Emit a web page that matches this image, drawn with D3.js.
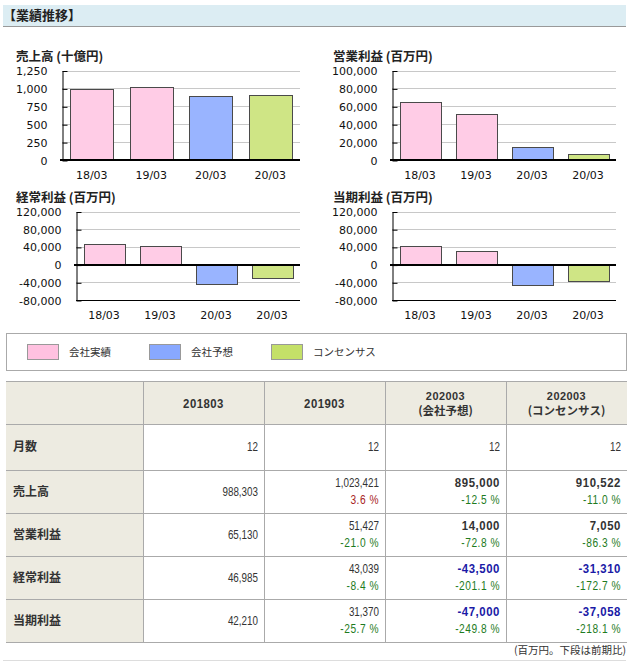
<!DOCTYPE html>
<html>
<head>
<meta charset="utf-8">
<script src="https://cdn.jsdelivr.net/npm/d3@7"></script>
<style>
	body { margin: 0; background: #fff; }
	svg { display: block; }
	.tick text { font-family: "DejaVu Sans", Verdana, sans-serif; font-size: 11px; fill: #111; }
</style>
</head>
<body>
<div id="chart"></div>
<script>
// periods shown under the bars, and what kind each bar is
const periods = ["18/03", "19/03", "20/03", "20/03"];
const barKinds = ["actual", "actual", "company", "consensus"];

// values in 百万円 (sales shown as 十億円 in the chart)
const sales = [988303, 1023421, 895000, 910522];
const operatingProfit = [65130, 51427, 14000, 7050];
const ordinaryProfit = [46985, 43039, -43500, -31310];
const netProfit = [42210, 31370, -47000, -37058];
const months = [12, 12, 12, 12];

// change vs previous period, %
const salesGrowth = [null, 3.6, -12.5, -11.0];
const operatingGrowth = [null, -21.0, -72.8, -86.3];
const ordinaryGrowth = [null, -8.4, -201.1, -172.7];
const netGrowth = [null, -25.7, -249.8, -218.1];

// tick labels
const salesTicks = [0, 250, 500, 750, 1000, 1250];
const operatingTicks = [0, 20000, 40000, 60000, 80000, 100000];
const profitTicks = [-80000, -40000, 0, 40000, 80000, 120000];

const legendLabels = ["会社実績", "会社予想", "コンセンサス"];
const columnHeads = [["201803"], ["201903"], ["202003", "(会社予想)"], ["202003", "(コンセンサス)"]];
const rowLabels = ["月数", "売上高", "営業利益", "経常利益", "当期利益"];

const barFill = { actual: "#ffcce6", company: "#99b4ff", consensus: "#cfe585" };
const swatchFill = ["#ffc1e0", "#88a8ff", "#c4e068"];
const cjk = "'Noto Sans CJK JP', 'Noto Sans', sans-serif";
const numFont = "'Liberation Sans', Arial, sans-serif";

// plain hyphen for negatives, like the original
const locale = d3.formatLocale({ decimal: ".", thousands: ",", grouping: [3], currency: ["", ""], minus: "-" });
const fmt = locale.format(",");
const pct = locale.format(".1f");

const svg = d3.select("#chart").append("svg")
	.attr("width", 636)
	.attr("height", 662);

// header band
svg.append("rect")
	.attr("x", 3).attr("y", 5)
	.attr("width", 623).attr("height", 21)
	.attr("fill", "#dcedf3");
svg.append("line")
	.attr("x1", 3).attr("x2", 626)
	.attr("y1", 26.5).attr("y2", 26.5)
	.attr("stroke", "#999");
svg.append("text")
	.attr("x", 3).attr("y", 15)
	.attr("dy", "0.35em")
	.attr("font-family", cjk)
	.attr("font-weight", "bold")
	.attr("font-size", 13)
	.attr("fill", "#222")
	.text("【業績推移】");

const panels = [
	{ title: "売上高 (十億円)", values: sales.map(v => v / 1000), ticks: salesTicks,
		left: 62, right: 300, top: 70.5, bottom: 160, titleX: 16, titleY: 57, labelY: 175 },
	{ title: "営業利益 (百万円)", values: operatingProfit, ticks: operatingTicks,
		left: 392, right: 616, top: 70.5, bottom: 160, titleX: 333, titleY: 57, labelY: 175 },
	{ title: "経常利益 (百万円)", values: ordinaryProfit, ticks: profitTicks,
		left: 76, right: 300, top: 211.5, bottom: 300, titleX: 16, titleY: 198, labelY: 315 },
	{ title: "当期利益 (百万円)", values: netProfit, ticks: profitTicks,
		left: 392, right: 616, top: 211.5, bottom: 300, titleX: 333, titleY: 198, labelY: 315 }
];

panels.forEach(p => drawPanel(p));

function drawPanel(p) {
	const g = svg.append("g");

	const y = d3.scaleLinear()
		.domain(d3.extent(p.ticks))
		.range([p.bottom, p.top]);

	const x = d3.scaleBand()
		.domain(d3.range(p.values.length))
		.range([p.left, p.right])
		.paddingInner(0.27)
		.paddingOuter(0.135);

	g.append("text")
		.attr("x", p.titleX).attr("y", p.titleY)
		.attr("dy", "0.35em")
		.attr("font-family", cjk)
		.attr("font-weight", "bold")
		.attr("font-size", 12.5)
		.attr("fill", "#222")
		.text(p.title);

	// grid
	g.selectAll(".grid")
		.data(p.ticks)
		.join("line")
		.attr("x1", p.left).attr("x2", p.right)
		.attr("y1", d => Math.round(y(d)) + 0.5)
		.attr("y2", d => Math.round(y(d)) + 0.5)
		.attr("stroke", "#c8c8c8");

	// bars
	g.selectAll(".bar")
		.data(p.values)
		.join("rect")
		.attr("x", (d, i) => Math.round(x(i)) + 0.5)
		.attr("y", d => Math.round(y(Math.max(0, d))) + 0.5)
		.attr("width", Math.round(x.bandwidth()))
		.attr("height", d => Math.abs(Math.round(y(d)) - Math.round(y(0))))
		.attr("fill", (d, i) => barFill[barKinds[i]])
		.attr("stroke", "#4a4a4a");

	// axis
	const axis = d3.axisLeft(y)
		.tickValues(p.ticks)
		.tickSize(-5)
		.tickSizeOuter(0)
		.tickPadding(15)
		.tickFormat(fmt);

	const ag = g.append("g")
		.attr("transform", `translate(${p.left + 0.5},0.5)`)
		.call(axis);
	ag.select(".domain").attr("stroke", "#000");
	ag.selectAll(".tick line").attr("stroke", "#000");
	ag.selectAll(".tick text").attr("x", -15);

	// bottom line when the scale goes below zero
	if (y.domain()[0] < 0) {
		g.append("line")
			.attr("x1", p.left).attr("x2", p.right)
			.attr("y1", Math.round(y(y.domain()[0])) + 0.5)
			.attr("y2", Math.round(y(y.domain()[0])) + 0.5)
			.attr("stroke", "#000");
	}

	// zero line
	g.append("line")
		.attr("x1", p.left - 2).attr("x2", p.right)
		.attr("y1", Math.round(y(0)))
		.attr("y2", Math.round(y(0)))
		.attr("stroke", "#000")
		.attr("stroke-width", 2);

	g.selectAll(".xlabel")
		.data(periods)
		.join("text")
		.attr("x", (d, i) => x(i) + x.bandwidth() / 2)
		.attr("y", p.labelY)
		.attr("dy", "0.35em")
		.attr("text-anchor", "middle")
		.attr("font-family", "'DejaVu Sans', Verdana, sans-serif")
		.attr("font-size", 11)
		.attr("fill", "#111")
		.text(d => d);
}

// legend
svg.append("rect")
	.attr("x", 6.5).attr("y", 333.5)
	.attr("width", 620).attr("height", 37)
	.attr("fill", "#fff")
	.attr("stroke", "#aaa");

const legendX = d3.scalePoint()
	.domain(legendLabels)
	.range([27, 271]);

const legendItem = svg.selectAll(".legend")
	.data(legendLabels)
	.join("g")
	.attr("transform", d => `translate(${legendX(d)},344)`);
legendItem.append("rect")
	.attr("x", 0.5).attr("y", 0.5)
	.attr("width", 31).attr("height", 15)
	.attr("fill", (d, i) => swatchFill[i])
	.attr("stroke", "#999");
legendItem.append("text")
	.attr("x", 42).attr("y", 8)
	.attr("dy", "0.35em")
	.attr("font-family", cjk)
	.attr("font-size", 10.5)
	.attr("fill", "#333")
	.text(d => d);

// table
const colEdges = [6, 143, 264, 385, 506, 627];
const rowEdges = [381, 424, 470, 513, 556, 599, 642];

const table = svg.append("g");

table.append("rect")
	.attr("x", colEdges[0]).attr("y", rowEdges[0])
	.attr("width", colEdges[5] - colEdges[0])
	.attr("height", rowEdges[1] - rowEdges[0])
	.attr("fill", "#edebe1");
table.append("rect")
	.attr("x", colEdges[0]).attr("y", rowEdges[0])
	.attr("width", colEdges[1] - colEdges[0])
	.attr("height", rowEdges[6] - rowEdges[0])
	.attr("fill", "#edebe1");

table.selectAll(".hline")
	.data(rowEdges)
	.join("line")
	.attr("x1", colEdges[0]).attr("x2", colEdges[5])
	.attr("y1", d => d + 0.5).attr("y2", d => d + 0.5)
	.attr("stroke", "#aaa");
table.selectAll(".vline")
	.data(colEdges.slice(1, 5))
	.join("line")
	.attr("x1", d => d + 0.5).attr("x2", d => d + 0.5)
	.attr("y1", rowEdges[0]).attr("y2", rowEdges[6])
	.attr("stroke", "#aaa");

// squeezed number text, the original uses a narrow bitmap face
function numText(sel, x, y, str, opts) {
	return sel.append("text")
		.attr("transform", `translate(${x},${y}) scale(${opts.sx},1)`)
		.attr("dy", "0.35em")
		.attr("text-anchor", opts.anchor || "end")
		.attr("font-family", numFont)
		.attr("font-weight", opts.bold ? "bold" : "normal")
		.attr("font-size", opts.size || 12)
		.attr("letter-spacing", opts.ls || 0)
		.attr("fill", opts.fill || "#333")
		.text(str);
}

// column heads
columnHeads.forEach((lines, c) => {
	const cx = (colEdges[c + 1] + colEdges[c + 2]) / 2;
	const cy = (rowEdges[0] + rowEdges[1]) / 2 + 1;
	if (lines.length === 1) {
		numText(table, cx, cy, lines[0], { sx: 0.95, bold: true, anchor: "middle", ls: 0.5 });
	} else {
		numText(table, cx, cy - 8, lines[0], { sx: 0.95, bold: true, anchor: "middle", ls: 0.5, size: 11.5 });
		table.append("text")
			.attr("x", cx)
			.attr("y", cy + 7.5)
			.attr("dy", "0.35em")
			.attr("text-anchor", "middle")
			.attr("font-family", cjk)
			.attr("font-weight", "bold")
			.attr("font-size", 11.5)
			.attr("fill", "#333")
			.text(lines[1]);
	}
});

// row labels
rowLabels.forEach((t, r) => {
	table.append("text")
		.attr("x", 13)
		.attr("y", (rowEdges[r + 1] + rowEdges[r + 2]) / 2)
		.attr("dy", "0.35em")
		.attr("font-family", cjk)
		.attr("font-weight", "bold")
		.attr("font-size", 12)
		.attr("fill", "#333")
		.text(t);
});

const tableRows = [
	{ values: months, growth: [null, null, null, null] },
	{ values: sales, growth: salesGrowth },
	{ values: operatingProfit, growth: operatingGrowth },
	{ values: ordinaryProfit, growth: ordinaryGrowth },
	{ values: netProfit, growth: netGrowth }
];

tableRows.forEach((row, r) => {
	const top = rowEdges[r + 1];
	const mid = (rowEdges[r + 1] + rowEdges[r + 2]) / 2;
	row.values.forEach((v, c) => {
		const xr = colEdges[c + 2] - 6;
		const bold = c >= 2 && r > 0;
		const g = row.growth[c];
		numText(table, xr, g === null ? mid : top + 12.5, fmt(v), {
			sx: bold ? 0.95 : 0.82,
			bold: bold,
			ls: bold ? 0.6 : 0,
			fill: bold && v < 0 ? "#1a1aa6" : "#333"
		});
		if (g !== null) {
			numText(table, xr, top + 29.5, pct(g) + " %", {
				sx: 0.85,
				ls: 0.6,
				fill: g < 0 ? "#1e7b1e" : "#a82424"
			});
		}
	});
});

svg.append("text")
	.attr("x", 626).attr("y", 650)
	.attr("dy", "0.35em")
	.attr("text-anchor", "end")
	.attr("font-family", cjk)
	.attr("font-size", 10.5)
	.attr("fill", "#333")
	.text("(百万円。下段は前期比)");

svg.append("line")
	.attr("x1", 3).attr("x2", 626)
	.attr("y1", 660.5).attr("y2", 660.5)
	.attr("stroke", "#ddd");
</script>
</body>
</html>
